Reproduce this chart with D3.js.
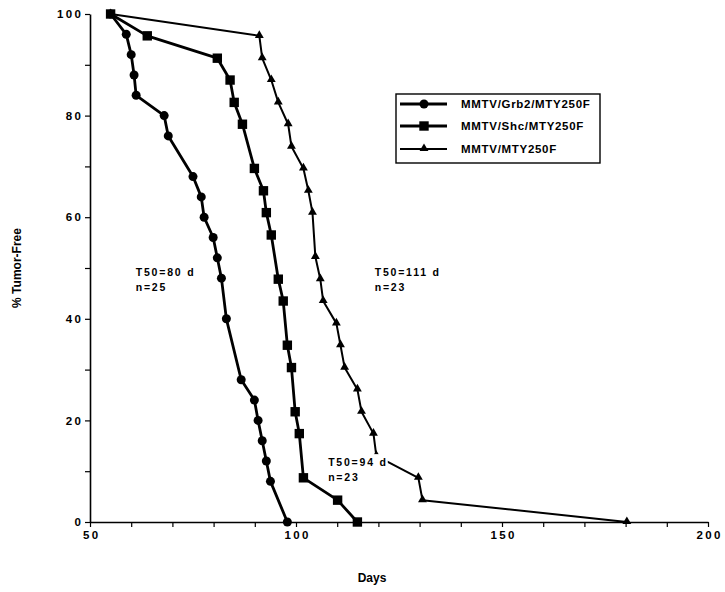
<!DOCTYPE html>
<html>
<head>
<meta charset="utf-8">
<script src="https://cdn.jsdelivr.net/npm/d3@7"></script>
<style>
  body { margin: 0; background: #fff; }
  svg text { font-family: "Liberation Sans", Arial, Helvetica, sans-serif; font-weight: bold; fill: #000; }
</style>
</head>
<body>
<svg id="chart" width="725" height="592"></svg>
<script>
// Kaplan-Meier style tumor-free curves (days, % tumor-free)
const grb2Days = [55, 58.8, 60.0, 60.7, 61.2, 68.0, 69.0, 75.0, 77.0, 77.7, 79.9, 80.9, 81.9, 83.1, 86.7, 89.9, 90.8, 91.8, 92.8, 93.8, 97.9];
const grb2Pct  = [100, 96, 92, 88, 84, 80, 76, 68, 64, 60, 56, 52, 48, 40, 28, 24, 20, 16, 12, 8, 0];

const shcDays = [55, 63.9, 80.9, 84.0, 85.0, 87.0, 89.9, 92.1, 92.8, 94.0, 95.7, 96.9, 97.9, 98.9, 99.8, 100.8, 101.8, 110.1, 114.9];
const shcPct  = [100, 95.7, 91.3, 87.0, 82.6, 78.3, 69.6, 65.2, 60.9, 56.5, 47.8, 43.5, 34.8, 30.4, 21.7, 17.4, 8.7, 4.3, 0];

const mtyDays = [55, 91.1, 91.8, 94.0, 95.7, 98.1, 98.9, 101.8, 103.0, 104.0, 104.7, 105.9, 106.6, 109.8, 110.8, 111.8, 114.9, 115.9, 118.8, 119.5, 129.7, 130.7, 180.3];
const mtyPct  = [100, 95.7, 91.3, 87.0, 82.6, 78.3, 73.9, 69.6, 65.2, 60.9, 52.2, 47.8, 43.5, 39.1, 34.8, 30.4, 26.1, 21.7, 17.4, 13.0, 8.7, 4.3, 0];

const seriesNames = ['MMTV/Grb2/MTY250F', 'MMTV/Shc/MTY250F', 'MMTV/MTY250F'];
const xTicks = [50, 60, 70, 80, 90, 100, 110, 120, 130, 140, 150, 160, 170, 180, 190, 200];
const yTicks = [0, 10, 20, 30, 40, 50, 60, 70, 80, 90, 100];

// annotation labels: [line1, line2, day, pct]
const notes = [
  ['T50=80 d', 'n=25', 61.1, 48.5],
  ['T50=111 d', 'n=23', 119.1, 48.5],
  ['T50=94 d', 'n=23', 107.8, 11.0]
];

const svg = d3.select('#chart');
const x = d3.scaleLinear().domain([50, 200]).range([90, 708]);
const y = d3.scaleLinear().domain([0, 100]).range([522, 14]);

// ── Axes ────────────────────────────────────────────────────────────────────
const xAxis = svg.append('g')
  .attr('transform', `translate(0,${y(0)})`)
  .call(d3.axisBottom(x).tickValues(xTicks).tickSize(5).tickSizeOuter(0).tickPadding(4)
    .tickFormat(d => d % 50 === 0 ? d : ''));

const yAxis = svg.append('g')
  .attr('transform', `translate(${x(50)},0)`)
  .call(d3.axisLeft(y).tickValues(yTicks).tickSize(5).tickSizeOuter(0).tickPadding(4)
    .tickFormat(d => d % 20 === 0 ? d : ''));

[xAxis, yAxis].forEach(g => {
  g.select('.domain').attr('stroke', '#000').attr('stroke-width', 1.6);
  g.selectAll('.tick line').attr('stroke', '#000').attr('stroke-width', 1.2);
  g.selectAll('.tick text')
    .style('font-size', '11.5px')
    .style('letter-spacing', '2.4px')
    .attr('fill', '#000');
});
xAxis.selectAll('.tick text').attr('dx', '1.2px');
yAxis.selectAll('.tick text').attr('dx', '2.4px');

svg.append('text')
  .attr('x', 372).attr('y', 582)
  .attr('text-anchor', 'middle')
  .style('font-size', '12px')
  .text('Days');

svg.append('text')
  .attr('transform', 'translate(21,268) rotate(-90)')
  .attr('text-anchor', 'middle')
  .style('font-size', '12px')
  .text('% Tumor-Free');

// ── Curves ──────────────────────────────────────────────────────────────────
const line = d3.line().x(d => x(d[0])).y(d => y(d[1]));
const zip = (a, b) => a.map((v, i) => [v, b[i]]);

const mty = zip(mtyDays, mtyPct);
const grb2 = zip(grb2Days, grb2Pct);
const shc = zip(shcDays, shcPct);

const triangle = d3.symbol().type(d3.symbolTriangle).size(34);

function drawSeries(data, width, marker) {
  svg.append('path')
    .datum(data)
    .attr('fill', 'none')
    .attr('stroke', '#000')
    .attr('stroke-width', width)
    .attr('stroke-linejoin', 'round')
    .attr('d', line);
  const g = svg.append('g');
  data.forEach(d => marker(g, x(d[0]), y(d[1])));
}

function circleMark(g, cx, cy) {
  g.append('circle').attr('cx', cx).attr('cy', cy).attr('r', 4.5).attr('fill', '#000');
}
function squareMark(g, cx, cy) {
  g.append('rect').attr('x', cx - 4.7).attr('y', cy - 4.7).attr('width', 9.4).attr('height', 9.4).attr('fill', '#000');
}
function triMark(g, cx, cy) {
  g.append('path').attr('d', triangle).attr('transform', `translate(${cx},${cy - 0.5})`).attr('fill', '#000');
}

drawSeries(mty, 2, triMark);
drawSeries(grb2, 2.8, circleMark);
drawSeries(shc, 2.8, squareMark);

// ── Annotations (white backed, as in the original) ──────────────────────────
notes.forEach(n => {
  const g = svg.append('g');
  const bg = g.append('rect').attr('fill', '#fff');
  const t = g.append('text')
    .attr('x', x(n[2])).attr('y', y(n[3]))
    .style('font-size', '10.5px')
    .style('letter-spacing', '1.8px');
  t.append('tspan').attr('x', x(n[2])).text(n[0]);
  t.append('tspan').attr('x', x(n[2])).attr('dy', 15).text(n[1]);
  const b = t.node().getBBox();
  bg.attr('x', b.x - 2).attr('y', b.y - 2).attr('width', b.width + 2).attr('height', b.height + 2);
});

// ── Legend ──────────────────────────────────────────────────────────────────
const legend = svg.append('g');
legend.append('rect')
  .attr('x', 396).attr('y', 94).attr('width', 204).attr('height', 69)
  .attr('fill', '#fff').attr('stroke', '#000').attr('stroke-width', 1.4);

const legendRows = [104, 126, 149];
const legendMarks = [circleMark, squareMark, triMark];
const legendWidths = [2.8, 2.8, 2];
seriesNames.forEach((name, i) => {
  const ly = legendRows[i];
  legend.append('line')
    .attr('x1', 400).attr('x2', 447).attr('y1', ly).attr('y2', ly)
    .attr('stroke', '#000').attr('stroke-width', legendWidths[i]);
  legendMarks[i](legend, 424, ly);
  legend.append('text')
    .attr('x', 461).attr('y', ly + 4)
    .style('font-size', '11.5px')
    .style('letter-spacing', '0.7px')
    .text(name);
});
</script>
</body>
</html>
